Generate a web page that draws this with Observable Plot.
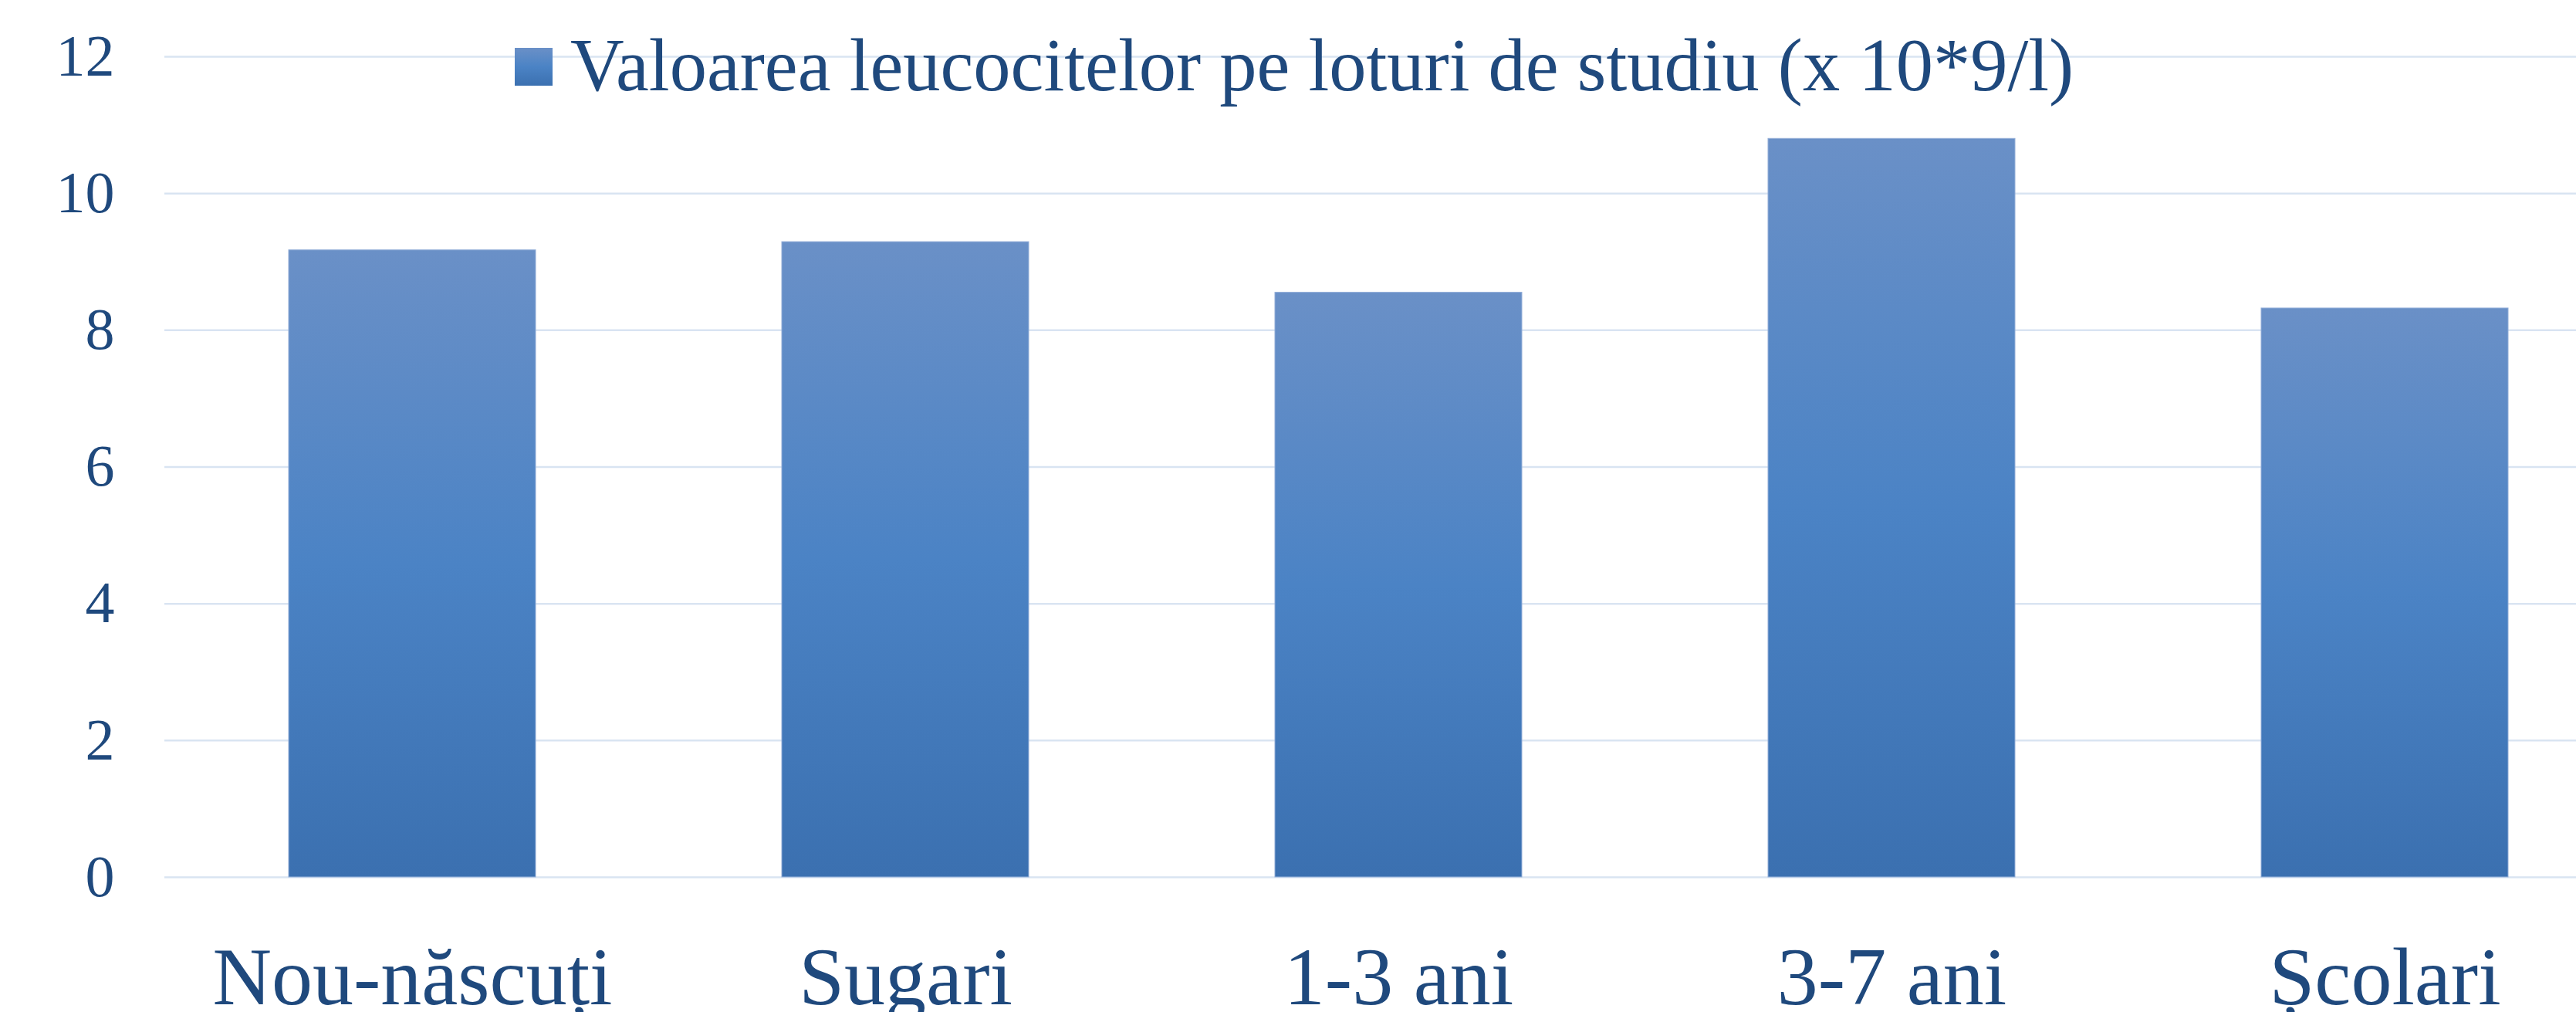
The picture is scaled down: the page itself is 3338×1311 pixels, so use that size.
<!DOCTYPE html>
<html>
<head>
<meta charset="utf-8">
<script src="https://cdn.jsdelivr.net/npm/d3@7"></script>
<script src="https://cdn.jsdelivr.net/npm/@observablehq/plot@0.6"></script>
<style>
  html, body { margin: 0; padding: 0; background: #ffffff; }
  #wrap { position: relative; width: 3338px; height: 1311px; overflow: hidden; font-family: "Liberation Serif", "Times New Roman", serif; }
  #legend { position: absolute; left: 667px; top: 0; }
  #legend .swatch { position: absolute; left: 0; top: 62px; width: 49px; height: 49px;
    background: linear-gradient(to bottom, #6a90c7, #4b83c5 50%, #3b70b0); }
  #legend .label { position: absolute; left: 72px; top: 37px; font-size: 96.5px; line-height: 96.5px;
    color: #1f497d; white-space: nowrap; }
</style>
</head>
<body>
<div id="wrap"></div>
<script>
const categories = ["Nou-născuți", "Sugari", "1-3 ani", "3-7 ani", "Școlari"];
const values = [9.17, 9.29, 8.55, 10.80, 8.32];
const yTicks = [0, 2, 4, 6, 8, 10, 12];
const seriesName = "Valoarea leucocitelor pe loturi de studiu (x 10*9/l)";

const data = categories.map((c, i) => ({cat: c, val: values[i]}));

function gradientDefs() {
  const ns = "http://www.w3.org/2000/svg";
  const defs = document.createElementNS(ns, "defs");
  const lg = document.createElementNS(ns, "linearGradient");
  lg.setAttribute("id", "barGrad");
  lg.setAttribute("x1", "0"); lg.setAttribute("y1", "0");
  lg.setAttribute("x2", "0"); lg.setAttribute("y2", "1");
  [["0%", "#6a90c7"], ["50%", "#4b83c5"], ["100%", "#3b70b0"]].forEach(([o, c]) => {
    const s = document.createElementNS(ns, "stop");
    s.setAttribute("offset", o);
    s.setAttribute("stop-color", c);
    lg.appendChild(s);
  });
  defs.appendChild(lg);
  return defs;
}

const chart = Plot.plot({
  width: 3338,
  height: 1311,
  marginTop: 73,
  marginBottom: 175,
  marginLeft: 213,
  marginRight: 0,
  style: {fontFamily: '"Liberation Serif", "Times New Roman", serif', color: "#1f497d", background: "#ffffff"},
  x: {type: "band", domain: categories, range: [213, 3410], paddingInner: 0.5, paddingOuter: 0.25},
  y: {domain: [0, 12]},
  marks: [
    gradientDefs,
    Plot.gridY(yTicks, {stroke: "#d9e4f2", strokeOpacity: 1, strokeWidth: 2.5}),
    Plot.barY(data, {x: "cat", y: "val", fill: "url(#barGrad)", stroke: "#93aed8", strokeWidth: 1}),
    Plot.axisY(yTicks, {tickSize: 0, tickPadding: 65, fontSize: 76, fill: "#1f497d", label: null, tickFormat: d3.format("d")}),
    Plot.axisX({tickSize: 0, tickPadding: 89, fontSize: 106, fill: "#1f497d", label: null})
  ]
});

const wrap = document.getElementById("wrap");
wrap.appendChild(chart);
const legend = document.createElement("div");
legend.id = "legend";
legend.innerHTML = '<div class="swatch"></div><div class="label"></div>';
legend.querySelector(".label").textContent = seriesName;
wrap.appendChild(legend);
</script>
</body>
</html>
